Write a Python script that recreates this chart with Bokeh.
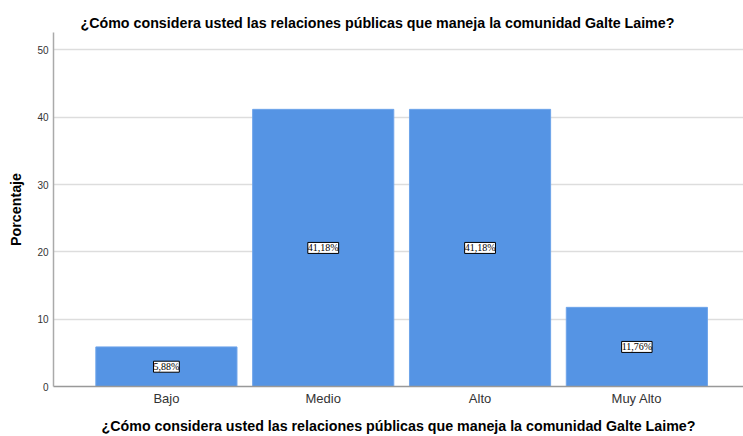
from bokeh.plotting import figure
from bokeh.models import Range1d, FixedTicker, ColumnDataSource, LabelSet
from bokeh.embed import file_html
from bokeh.resources import INLINE

categories = ["Bajo", "Medio", "Alto", "Muy Alto"]
values = [5.88, 41.18, 41.18, 11.76]
value_labels = ["5,88%", "41,18%", "41,18%", "11,76%"]
y_ticks = [0, 10, 20, 30, 40, 50]

title_text = "¿Cómo considera usted las relaciones públicas que maneja la comunidad Galte Laime?"

xs = list(range(1, len(categories) + 1))
src = ColumnDataSource(dict(x=xs, top=values, mid=[v / 2 for v in values], lab=value_labels))

p = figure(width=743, height=436, output_backend="svg", toolbar_location=None,
           x_range=Range1d(0.28, 4.68), y_range=Range1d(0, 52.6),
           min_border_left=53, min_border_right=0, min_border_bottom=46, min_border_top=32)
p.outline_line_color = None
p.background_fill_color = "white"

p.title.text = title_text
p.title.text_font = "Liberation Sans"
p.title.text_font_size = "14.25px"
p.title.text_font_style = "bold"
p.title.text_color = "#000000"
p.title.align = "left"
p.title.offset = 27
p.title.standoff = 4

p.vbar(x="x", top="top", width=0.9, source=src, fill_color="#5594e4", line_color="#6ea4ea", line_width=1)

labels = LabelSet(x="x", y="mid", text="lab", source=src, text_align="center", text_baseline="middle",
                  text_font="Liberation Sans", text_font_size="10px", text_color="#000000",
                  background_fill_color="white", border_line_color="#000000", border_line_width=1)
p.add_layout(labels)

p.xaxis.ticker = FixedTicker(ticks=xs)
p.xaxis.major_label_overrides = {x: c for x, c in zip(xs, categories)}
p.xaxis.major_label_text_font = "Liberation Sans"
p.xaxis.major_label_text_font_size = "13px"
p.xaxis.major_label_text_color = "#333333"
p.xaxis.major_label_standoff = 4
p.xaxis.axis_label = title_text
p.xaxis.axis_label_text_font = "Liberation Sans"
p.xaxis.axis_label_text_font_size = "14.25px"
p.xaxis.axis_label_text_font_style = "bold"
p.xaxis.axis_label_text_color = "#000000"
p.xaxis.axis_label_standoff = 9
p.xaxis.axis_line_color = "#999999"
p.xaxis.axis_line_width = 1.5
p.xaxis.major_tick_line_color = None
p.xaxis.minor_tick_line_color = None
p.xaxis.major_tick_out = 0
p.xaxis.major_tick_in = 0

p.yaxis.ticker = FixedTicker(ticks=y_ticks)
p.yaxis.major_label_text_font = "Liberation Sans"
p.yaxis.major_label_text_font_size = "10px"
p.yaxis.major_label_text_color = "#333333"
p.yaxis.major_label_standoff = 5
p.yaxis.axis_label = "Porcentaje"
p.yaxis.axis_label_text_font = "Liberation Sans"
p.yaxis.axis_label_text_font_size = "14.25px"
p.yaxis.axis_label_text_font_style = "bold"
p.yaxis.axis_label_text_color = "#000000"
p.yaxis.axis_label_standoff = 10
p.yaxis.axis_line_color = "#aaaaaa"
p.yaxis.axis_line_width = 1.5
p.yaxis.major_tick_line_color = None
p.yaxis.minor_tick_line_color = None
p.yaxis.major_tick_out = 0
p.yaxis.major_tick_in = 0

p.xgrid.grid_line_color = None
p.ygrid.grid_line_color = "#dddddd"
p.ygrid.grid_line_width = 1.5

open("out.html", "w").write(file_html(p, INLINE))
